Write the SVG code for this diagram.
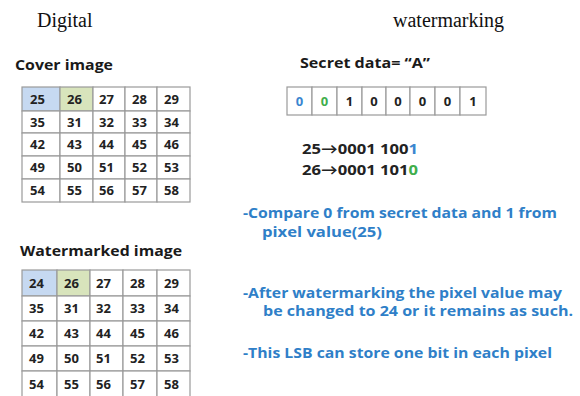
<svg xmlns="http://www.w3.org/2000/svg" width="580" height="396" viewBox="0 0 580 396">
<style>
.title{font-family:"Liberation Serif",serif;font-size:20px;fill:#111}
.h{font-family:"Open Sans",Lato,sans-serif;font-weight:bold;font-size:14.5px;fill:#1a1a1a}
.c{font-family:"Open Sans",Lato,sans-serif;font-weight:bold;font-size:13px;fill:#222}
.b{font-family:"Open Sans",Lato,sans-serif;font-weight:bold;font-size:14.5px;fill:#222}
.n{font-family:"Open Sans",Lato,sans-serif;font-weight:bold;font-size:14px;fill:#2f7fc8}
.cell{fill:#fff;stroke:#9a9a9a;stroke-width:1.2}
.blue{fill:#c6d9f1}
.green{fill:#d8e4bc}
.bb{fill:#3a86d0}
.bg{fill:#3fae4c}
</style>
<text class="title" x="37" y="27">Digital</text>
<text class="title" x="393" y="27">watermarking</text>

<g id="cover">
<text class="h" x="15" y="70" textLength="98" lengthAdjust="spacingAndGlyphs">Cover image</text>
<g>
<rect class="cell blue" x="22" y="87" width="38" height="24"/>
<rect class="cell green" x="60" y="87" width="33" height="24"/>
<rect class="cell" x="93" y="87" width="32" height="24"/>
<rect class="cell" x="125" y="87" width="32" height="24"/>
<rect class="cell" x="157" y="87" width="33" height="24"/>
<rect class="cell" x="22" y="111" width="38" height="22"/>
<rect class="cell" x="60" y="111" width="33" height="22"/>
<rect class="cell" x="93" y="111" width="32" height="22"/>
<rect class="cell" x="125" y="111" width="32" height="22"/>
<rect class="cell" x="157" y="111" width="33" height="22"/>
<rect class="cell" x="22" y="133" width="38" height="23"/>
<rect class="cell" x="60" y="133" width="33" height="23"/>
<rect class="cell" x="93" y="133" width="32" height="23"/>
<rect class="cell" x="125" y="133" width="32" height="23"/>
<rect class="cell" x="157" y="133" width="33" height="23"/>
<rect class="cell" x="22" y="156" width="38" height="23"/>
<rect class="cell" x="60" y="156" width="33" height="23"/>
<rect class="cell" x="93" y="156" width="32" height="23"/>
<rect class="cell" x="125" y="156" width="32" height="23"/>
<rect class="cell" x="157" y="156" width="33" height="23"/>
<rect class="cell" x="22" y="179" width="38" height="23"/>
<rect class="cell" x="60" y="179" width="33" height="23"/>
<rect class="cell" x="93" y="179" width="32" height="23"/>
<rect class="cell" x="125" y="179" width="32" height="23"/>
<rect class="cell" x="157" y="179" width="33" height="23"/>
</g>
<g class="c">
<text x="30" y="104">25</text><text x="67" y="104">26</text><text x="99" y="104">27</text><text x="132" y="104">28</text><text x="164" y="104">29</text>
<text x="30" y="127">35</text><text x="67" y="127">31</text><text x="99" y="127">32</text><text x="132" y="127">33</text><text x="164" y="127">34</text>
<text x="30" y="149">42</text><text x="67" y="149">43</text><text x="99" y="149">44</text><text x="132" y="149">45</text><text x="164" y="149">46</text>
<text x="30" y="172">49</text><text x="67" y="172">50</text><text x="99" y="172">51</text><text x="132" y="172">52</text><text x="164" y="172">53</text>
<text x="30" y="195">54</text><text x="67" y="195">55</text><text x="99" y="195">56</text><text x="132" y="195">57</text><text x="164" y="195">58</text>
</g>
</g>

<g id="watermarked">
<text class="h" x="20" y="256" textLength="162" lengthAdjust="spacingAndGlyphs">Watermarked image</text>
<g>
<rect class="cell blue" x="22" y="270" width="35" height="26"/>
<rect class="cell green" x="57" y="270" width="33" height="26"/>
<rect class="cell" x="90" y="270" width="33" height="26"/>
<rect class="cell" x="123" y="270" width="34" height="26"/>
<rect class="cell" x="157" y="270" width="33" height="26"/>
<rect class="cell" x="22" y="296" width="35" height="25"/>
<rect class="cell" x="57" y="296" width="33" height="25"/>
<rect class="cell" x="90" y="296" width="33" height="25"/>
<rect class="cell" x="123" y="296" width="34" height="25"/>
<rect class="cell" x="157" y="296" width="33" height="25"/>
<rect class="cell" x="22" y="321" width="35" height="25"/>
<rect class="cell" x="57" y="321" width="33" height="25"/>
<rect class="cell" x="90" y="321" width="33" height="25"/>
<rect class="cell" x="123" y="321" width="34" height="25"/>
<rect class="cell" x="157" y="321" width="33" height="25"/>
<rect class="cell" x="22" y="346" width="35" height="25"/>
<rect class="cell" x="57" y="346" width="33" height="25"/>
<rect class="cell" x="90" y="346" width="33" height="25"/>
<rect class="cell" x="123" y="346" width="34" height="25"/>
<rect class="cell" x="157" y="346" width="33" height="25"/>
<rect class="cell" x="22" y="371" width="35" height="26"/>
<rect class="cell" x="57" y="371" width="33" height="26"/>
<rect class="cell" x="90" y="371" width="33" height="26"/>
<rect class="cell" x="123" y="371" width="34" height="26"/>
<rect class="cell" x="157" y="371" width="33" height="26"/>
</g>
<g class="c">
<text x="29" y="288">24</text><text x="64" y="288">26</text><text x="96" y="288">27</text><text x="130" y="288">28</text><text x="164" y="288">29</text>
<text x="29" y="313">35</text><text x="64" y="313">31</text><text x="96" y="313">32</text><text x="130" y="313">33</text><text x="164" y="313">34</text>
<text x="29" y="338">42</text><text x="64" y="338">43</text><text x="96" y="338">44</text><text x="130" y="338">45</text><text x="164" y="338">46</text>
<text x="29" y="363">49</text><text x="64" y="363">50</text><text x="96" y="363">51</text><text x="130" y="363">52</text><text x="164" y="363">53</text>
<text x="29" y="389">54</text><text x="64" y="389">55</text><text x="96" y="389">56</text><text x="130" y="389">57</text><text x="164" y="389">58</text>
</g>
</g>

<g id="secret">
<text class="h" x="300" y="68" textLength="130" lengthAdjust="spacingAndGlyphs">Secret data= “A”</text>
<rect class="cell" x="287" y="87" width="25" height="28"/>
<rect class="cell" x="312" y="87" width="25" height="28"/>
<rect class="cell" x="337" y="87" width="25" height="28"/>
<rect class="cell" x="362" y="87" width="24" height="28"/>
<rect class="cell" x="386" y="87" width="24" height="28"/>
<rect class="cell" x="410" y="87" width="25" height="28"/>
<rect class="cell" x="435" y="87" width="25" height="28"/>
<rect class="cell" x="460" y="87" width="26" height="28"/>
<g class="c" text-anchor="middle">
<text class="bb" x="299.5" y="106">0</text>
<text class="bg" x="324.5" y="106">0</text>
<text x="349.5" y="106">1</text>
<text x="374" y="106">0</text>
<text x="398" y="106">0</text>
<text x="422.5" y="106">0</text>
<text x="447.5" y="106">0</text>
<text x="473" y="106">1</text>
</g>
</g>

<g id="binary">
<text class="b" x="302" y="154" textLength="116" lengthAdjust="spacingAndGlyphs">25→0001 100<tspan class="bb">1</tspan></text>
<text class="b" x="302" y="175" textLength="116" lengthAdjust="spacingAndGlyphs">26→0001 101<tspan class="bg">0</tspan></text>
</g>

<g id="notes">
<text class="n" x="243" y="218" textLength="314" lengthAdjust="spacingAndGlyphs">-Compare 0 from secret data and 1 from</text>
<text class="n" x="262" y="237" textLength="120" lengthAdjust="spacingAndGlyphs">pixel value(25)</text>
<text class="n" x="243" y="298" textLength="319" lengthAdjust="spacingAndGlyphs">-After watermarking the pixel value may</text>
<text class="n" x="263" y="316" textLength="310" lengthAdjust="spacingAndGlyphs">be changed to 24 or it remains as such.</text>
<text class="n" x="243" y="358" textLength="309" lengthAdjust="spacingAndGlyphs">-This LSB can store one bit in each pixel</text>
</g>
</svg>
